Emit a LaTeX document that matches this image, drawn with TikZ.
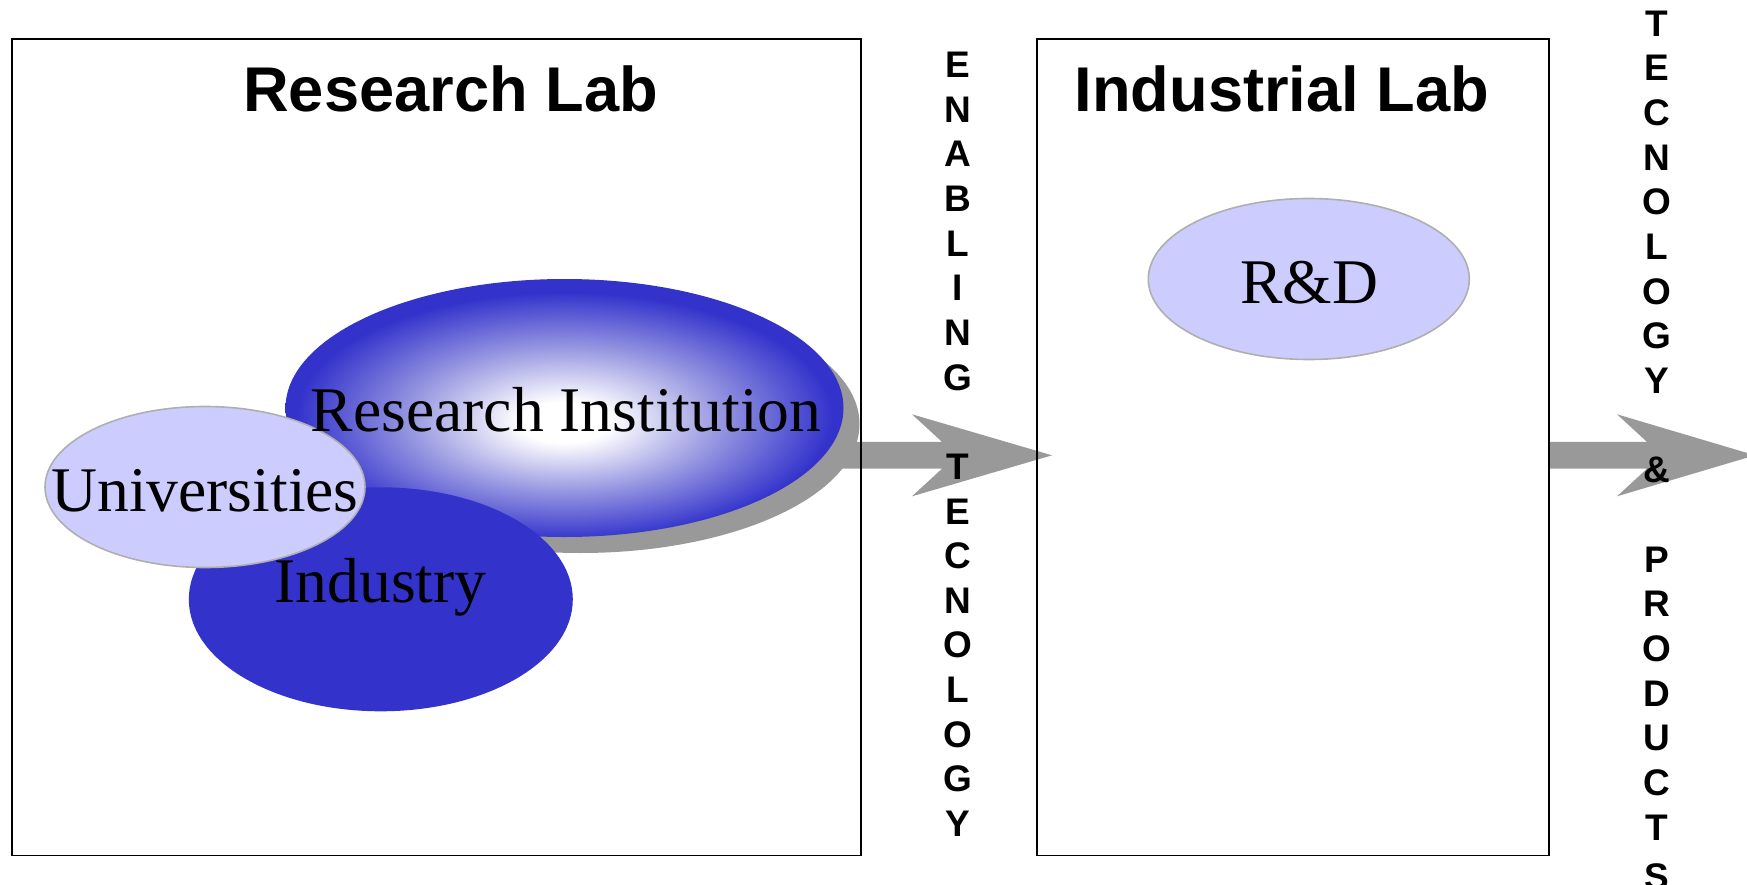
\documentclass[tikz,border=0pt]{standalone}
\usepackage{fontspec}
\setmainfont{Liberation Serif}
\setsansfont{Liberation Sans}
\usetikzlibrary{shapes.geometric,backgrounds}
\definecolor{riblue}{RGB}{51,51,204}
\definecolor{rimid}{RGB}{150,150,225}
\definecolor{lav}{RGB}{204,204,255}
\definecolor{ovalrim}{RGB}{175,175,175}
\definecolor{arrowgray}{RGB}{153,153,153}
\pgfdeclareradialshading{rishade}{\pgfpoint{0bp}{-3bp}}{color(0bp)=(white); color(4bp)=(white); color(14bp)=(rimid); color(24bp)=(riblue); color(50bp)=(riblue)}
\begin{document}
\begin{tikzpicture}[x=1pt,y=-1pt,
  labbox/.style={draw=black, line width=1.8pt, rectangle, inner sep=0pt},
  labtitle/.style={font=\sffamily\bfseries\fontsize{63.2}{76}\selectfont, anchor=base, inner sep=0pt},
  vlet/.style={font=\sffamily\bfseries\fontsize{37}{44}\selectfont, anchor=base, inner sep=0pt},
  ovaltext/.style={font=\fontsize{63.6}{76}\selectfont, anchor=base, inner sep=0pt},
  oval/.style={ellipse, inner sep=0pt},
  lightoval/.style={oval, fill=lav, draw=ovalrim, line width=1.6pt},
  blockarrow/.style={fill=arrowgray}]
\useasboundingbox (0,0) rectangle (1747,885);

% lab boxes
\node[labbox, minimum width=848.8pt, minimum height=816.2pt] (rlab) at (436.4,447.4) {};
\node[labbox, minimum width=512pt, minimum height=816.2pt] (ilab) at (1293,447.4) {};
\node[labtitle] (rlabt) at (450.6,111.2) {Research Lab};
\node[labtitle] (ilabt) at (1281.9,111.2) {Industrial Lab};

% research lab ovals
\node[oval, fill=arrowgray, minimum width=558pt, minimum height=258pt] (rishadow) at (580.5,424) {};
\node[oval, shading=rishade, minimum width=558pt, minimum height=258pt] (ri) at (564.5,408) {};
\node[oval, fill=riblue, minimum width=384pt, minimum height=224pt] (ind) at (380.8,599.3) {};
\node[lightoval, minimum width=320pt, minimum height=161pt] (uni) at (205,487) {};
\node[ovaltext] (ritext) at (566,431.8) {Research Institution};
\node[ovaltext] (unitext) at (205,511.2) {Universities};
\node[ovaltext] (indtext) at (380.5,602.7) {Industry};

% industrial lab oval
\node[lightoval, minimum width=321pt, minimum height=161pt] (rd) at (1308.8,279) {};
\node[ovaltext] (rdtext) at (1309,303.5) {R\&D};

% arrows
\coordinate (a1s) at (760,455.3);
\coordinate (a1t) at (1052,455.3);
\coordinate (a2s) at (1549,455.3);
\coordinate (a2t) at (1755,455.3);
\begin{pgfonlayer}{background}
\fill[blockarrow] ([shift={(0,-13.4)}]a1s) -- ([shift={(-110,-13.4)}]a1t) -- ([shift={(-140,-41)}]a1t) -- (a1t)
  -- ([shift={(-140,41)}]a1t) -- ([shift={(-110,13.4)}]a1t) -- ([shift={(0,13.4)}]a1s) -- cycle;
\fill[blockarrow] ([shift={(0,-13.4)}]a2s) -- ([shift={(-108,-13.4)}]a2t) -- ([shift={(-138,-41)}]a2t) -- (a2t)
  -- ([shift={(-138,41)}]a2t) -- ([shift={(-108,13.4)}]a2t) -- ([shift={(0,13.4)}]a2s) -- cycle;
\end{pgfonlayer}

% vertical labels
\foreach \l [count=\i from 0] in {E,N,A,B,L,I,N,G}
  \node[vlet] (ena\i) at (957.5,77.5+\i*44.65) {\l};
\foreach \l [count=\i from 9] in {T,E,C,N,O,L,O,G,Y}
  \node[vlet] (tec\i) at (957.5,77.5+\i*44.65) {\l};
\foreach \l [count=\i from 0] in {T,E,C,N,O,L,O,G,Y}
  \node[vlet] (tecb\i) at (1656.7,36.3+\i*44.65) {\l};
\node[vlet] (amp) at (1656.7,36.3+10*44.65) {\&};
\foreach \l [count=\i from 12] in {P,R,O,D,U,C,T}
  \node[vlet] (prod\i) at (1656.7,36.3+\i*44.65) {\l};
\node[vlet] (prod19) at (1656.7,889.5) {S};
\end{tikzpicture}
\end{document}
